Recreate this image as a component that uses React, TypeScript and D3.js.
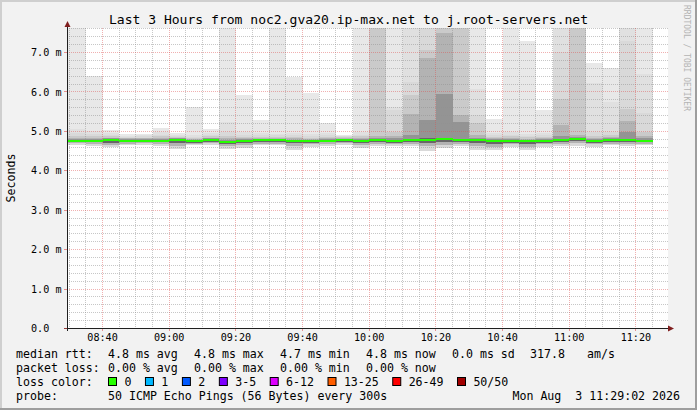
import React from 'react';
import * as d3 from 'd3';

// smoke bins: end time of each 5 minute step (300s)
const binEnds = [
  '08:35', '08:40', '08:45', '08:50', '08:55', '09:00', '09:05', '09:10', '09:15', '09:20',
  '09:25', '09:30', '09:35', '09:40', '09:45', '09:50', '09:55', '10:00', '10:05', '10:10',
  '10:15', '10:20', '10:25', '10:30', '10:35', '10:40', '10:45', '10:50', '10:55', '11:00',
  '11:05', '11:10', '11:15', '11:20', '11:25',
];

// rtt in ms, sorted-ping ranks (1 = outermost pair, 25 = median)
const median = [
  4.75, 4.75, 4.77, 4.755, 4.755, 4.755, 4.77, 4.745, 4.78, 4.73,
  4.755, 4.77, 4.77, 4.745, 4.745, 4.755, 4.77, 4.755, 4.77, 4.745,
  4.77, 4.79, 4.8, 4.77, 4.77, 4.755, 4.755, 4.745, 4.76, 4.77,
  4.8, 4.745, 4.77, 4.77, 4.755,
];
const pingMax = [
  7.9, 6.4, 5.03, 4.93, 4.93, 5.08, 4.97, 5.62, 5.05, 7.9,
  5.93, 5.28, 7.9, 6.38, 5.97, 5.22, 4.92, 7.9, 7.9, 7.9,
  7.9, 7.9, 7.9, 7.9, 7.9, 5.32, 7.9, 7.3, 5.53, 7.9,
  7.9, 6.73, 6.6, 7.9, 7.9,
];
const up2 = [
  5.07, 5.0, 4.96, 4.89, 4.9, 4.98, 4.92, 4.9, 4.96, 5.24,
  4.98, 4.95, 4.94, 4.97, 4.93, 4.96, 4.89, 4.98, 7.9, 5.62,
  7.9, 7.9, 7.9, 7.9, 6.08, 4.96, 4.98, 4.94, 4.95, 7.9,
  7.9, 6.22, 5.74, 7.9, 6.46,
];
const up3 = [
  4.95, 4.93, 4.91, 4.86, 4.87, 4.92, 4.89, 4.86, 4.91, 4.98,
  4.91, 4.9, 4.9, 4.91, 4.88, 4.9, 4.87, 4.92, 7.9, 5.53,
  6.25, 7.9, 7.9, 7.9, 5.41, 4.9, 4.92, 4.89, 4.9, 7.01,
  7.9, 4.98, 4.98, 7.3, 5.47,
];
const up5 = [
  4.88, 4.87, 4.87, 4.84, 4.84, 4.87, 4.86, 4.83, 4.87, 4.88,
  4.86, 4.86, 4.86, 4.86, 4.84, 4.85, 4.85, 4.87, 7.9, 4.98,
  5.91, 7.07, 7.9, 7.9, 5.2, 4.85, 4.87, 4.85, 4.86, 5.83,
  7.9, 4.88, 4.9, 5.56, 4.98,
];
const up8 = [
  4.84, 4.83, 4.84, 4.82, 4.82, 4.83, 4.84, 4.81, 4.84, 4.83,
  4.82, 4.83, 4.83, 4.82, 4.81, 4.82, 4.83, 4.83, 4.87, 4.87,
  5.45, 6.85, 7.49, 5.41, 4.92, 4.82, 4.83, 4.81, 4.82, 5.15,
  4.9, 4.83, 4.85, 5.26, 4.88,
];
const up12 = [
  4.81, 4.8, 4.82, 4.8, 4.8, 4.8, 4.82, 4.79, 4.82, 4.79,
  4.8, 4.81, 4.81, 4.79, 4.79, 4.8, 4.81, 4.8, 4.82, 4.82,
  4.9, 5.3, 5.96, 5.25, 4.83, 4.8, 4.8, 4.79, 4.8, 4.88,
  4.85, 4.8, 4.82, 4.98, 4.83,
];
const up18 = [
  4.78, 4.78, 4.8, 4.78, 4.78, 4.78, 4.8, 4.77, 4.8, 4.76,
  4.78, 4.79, 4.79, 4.77, 4.77, 4.78, 4.79, 4.78, 4.79, 4.78,
  4.8, 4.83, 4.84, 4.81, 4.79, 4.78, 4.78, 4.77, 4.78, 4.8,
  4.82, 4.77, 4.79, 4.81, 4.79,
];
const pingMin = [
  4.66, 4.64, 4.6, 4.645, 4.66, 4.63, 4.56, 4.645, 4.66, 4.56,
  4.59, 4.645, 4.645, 4.54, 4.61, 4.63, 4.66, 4.59, 4.63, 4.63,
  4.63, 4.49, 4.58, 4.63, 4.54, 4.52, 4.61, 4.52, 4.61, 4.63,
  4.63, 4.61, 4.645, 4.63, 4.645,
];
const low5 = [
  4.7, 4.69, 4.66, 4.69, 4.7, 4.68, 4.64, 4.69, 4.7, 4.63,
  4.66, 4.69, 4.69, 4.62, 4.67, 4.68, 4.7, 4.66, 4.69, 4.68,
  4.69, 4.62, 4.65, 4.69, 4.63, 4.61, 4.67, 4.61, 4.67, 4.69,
  4.7, 4.67, 4.69, 4.69, 4.69,
];
const low12 = [
  4.72, 4.72, 4.71, 4.72, 4.725, 4.72, 4.71, 4.715, 4.73, 4.69,
  4.71, 4.73, 4.73, 4.7, 4.71, 4.72, 4.73, 4.71, 4.72, 4.71,
  4.72, 4.71, 4.72, 4.72, 4.7, 4.69, 4.71, 4.69, 4.71, 4.72,
  4.75, 4.71, 4.73, 4.72, 4.72,
];

const yMajor = [0, 1, 2, 3, 4, 5, 6, 7];

const title = 'Last 3 Hours from noc2.gva20.ip-max.net to j.root-servers.net';
const rttStats = ['4.8 ms avg', '4.8 ms max', '4.7 ms min', '4.8 ms now', '0.0 ms sd'];
const lossStats = ['0.00 % avg', '0.00 % max', '0.00 % min', '0.00 % now'];
const lossLabels = ['0', '1', '2', '3-5', '6-12', '13-25', '26-49', '50/50'];
const probeText = '50 ICMP Echo Pings (56 Bytes) every 300s';
const stamp = 'Mon Aug  3 11:29:02 2026';

const lossColors = ['#26ff00', '#00b8ff', '#0059ff', '#7e00ff', '#dd00ff', '#ff5e00', '#ff0000', '#a10000'];
const MONO = "'DejaVu Sans Mono', monospace";

const day = (s: string) => {
  const [h, m] = s.split(':').map(Number);
  return new Date(2026, 7, 3, h, m, 0);
};

const L = 67, R = 668, T = 28, B = 328;
const x = d3.scaleTime()
  .domain([new Date(2026, 7, 3, 8, 29, 20), new Date(2026, 7, 3, 11, 29, 20)])
  .range([L, 667]);
const y = d3.scaleLinear().domain([0, 7.609]).range([328.5, 28.5]);

// smokeping: color = int(190/half*(half-i))+50
const grey = (rank: number) => {
  const c = Math.floor((190 / 25) * (25 - rank)) + 50;
  return d3.rgb(c, c, c).formatHex();
};

const bands = [
  { rank: 1, hi: pingMax, lo: pingMin },
  { rank: 2, hi: up2, lo: pingMin },
  { rank: 3, hi: up3, lo: pingMin },
  { rank: 5, hi: up5, lo: low5 },
  { rank: 8, hi: up8, lo: low5 },
  { rank: 12, hi: up12, lo: low12 },
  { rank: 18, hi: up18, lo: low12 },
];

const App: React.FC = () => {
  const bins = binEnds.map((e, i) => {
    const t1 = day(e);
    const t0 = d3.timeMinute.offset(t1, -5);
    return { i, x0: i === 0 ? L : Math.round(x(t0)), x1: Math.round(x(t1)) };
  });

  const minorX = x.ticks(d3.timeMinute.every(5)!);
  const majorX = x.ticks(d3.timeMinute.every(20)!);
  const minorY = d3.range(1, 39).map(k => k / 5).filter(v => Math.abs(v - Math.round(v)) > 1e-6);
  const px = (v: number) => Math.floor(v) + 0.5;
  const fmt = d3.timeFormat('%H:%M');

  const rowY = [357.5, 371.6, 385.7, 399.8];
  const colX = [108, 194, 280, 366, 452];

  let sx = 108;
  const lossItems = lossLabels.map((lab, i) => {
    const item = { lab, sx, color: lossColors[i] };
    sx = sx + 16.4 + lab.length * 6.95 + 13.6;
    return item;
  });

  return (
    <svg width={697} height={410} style={{ position: 'absolute', left: 0, top: 0 }}
      fontFamily={MONO}>
      <defs>
        <clipPath id="plot"><rect x={L} y={T} width={R - L} height={B - T + 1} /></clipPath>
      </defs>
      <rect width={697} height={410} fill="#f2f2f2" />
      <rect x={0} y={0} width={697} height={2} fill="#cfcfcf" />
      <rect x={0} y={0} width={2} height={410} fill="#cfcfcf" />
      <rect x={0} y={408} width={697} height={2} fill="#9e9e9e" />
      <rect x={695} y={0} width={2} height={410} fill="#9e9e9e" />
      <rect x={L} y={T} width={R - L} height={B - T} fill="#ffffff" />

      <g clipPath="url(#plot)" shapeRendering="crispEdges">
        {bands.map(b => (
          <g key={b.rank} fill={grey(b.rank)}>
            {bins.map(d => {
              const y0 = Math.round(y(b.hi[d.i]));
              const y1 = Math.round(y(b.lo[d.i]));
              return <rect key={d.i} x={d.x0} y={y0} width={d.x1 - d.x0} height={Math.max(0, y1 - y0)} />;
            })}
          </g>
        ))}
      </g>

      <g strokeDasharray="1,1" strokeWidth={1} fill="none">
        {minorX.filter(t => +t % (20 * 60000) !== 0).map(t => (
          <line key={+t} x1={px(x(t))} x2={px(x(t))} y1={T} y2={B} stroke="rgba(143,143,143,0.5)" />
        ))}
        {minorY.map(v => (
          <line key={v} x1={L} x2={R} y1={px(y(v))} y2={px(y(v))} stroke="rgba(143,143,143,0.5)" />
        ))}
        {majorX.map(t => (
          <line key={+t} x1={px(x(t))} x2={px(x(t))} y1={T} y2={B} stroke="rgba(222,79,79,0.45)" />
        ))}
        {yMajor.filter(v => v > 0).map(v => (
          <line key={v} x1={L} x2={R} y1={px(y(v))} y2={px(y(v))} stroke="rgba(222,79,79,0.45)" />
        ))}
      </g>

      <g fill={lossColors[0]} shapeRendering="crispEdges">
        {bins.map(d => (
          <rect key={d.i} x={d.x0} y={Math.round(y(median[d.i])) - 1} width={d.x1 - d.x0} height={2} />
        ))}
      </g>

      {/* axes */}
      <g stroke="#1f1f1f" strokeWidth={1} shapeRendering="crispEdges">
        <line x1={64} x2={670} y1={328.5} y2={328.5} />
        <line x1={67.5} x2={67.5} y1={331} y2={26} />
        {majorX.map(t => (
          <line key={+t} x1={px(x(t))} x2={px(x(t))} y1={329} y2={331} stroke="rgba(222,79,79,0.6)" />
        ))}
        {yMajor.map(v => (
          <line key={v} x1={64} x2={67} y1={px(y(v))} y2={px(y(v))} stroke="rgba(222,79,79,0.6)" />
        ))}
      </g>
      <polygon points="668,325.5 674,328.5 668,331.5" fill="#801f1f" />
      <polygon points="67.5,21 64.5,27 70.5,27" fill="#801f1f" />

      <text x={348.5} y={24} textAnchor="middle" fontSize={13.05} fill="#000">{title}</text>
      <text x={683.5} y={5} fontSize={8} fill="#b4b4b4" transform="rotate(90,683.5,5)">RRDTOOL / TOBI OETIKER</text>
      <text x={0} y={0} fontSize={11.6} textAnchor="middle" fill="#000"
        transform="translate(14.5,178) rotate(-90)">Seconds</text>

      <g fontSize={10.15} fill="#000">
        {yMajor.map(v => (
          <text key={v} x={31} y={y(v) + 3.6}>{v === 0 ? '0.0' : `${v.toFixed(1)} m`}</text>
        ))}
        {majorX.map(t => (
          <text key={+t} x={x(t)} y={341} textAnchor="middle">{fmt(t)}</text>
        ))}
      </g>

      <g fontSize={11.6} fill="#000" style={{ whiteSpace: 'pre' }}>
        <text x={16} y={rowY[0]}>median rtt:</text>
        {rttStats.map((s, i) => <text key={s + i} x={colX[i]} y={rowY[0]}>{s}</text>)}
        <text x={530} y={rowY[0]}>317.8</text>
        <text x={587} y={rowY[0]}>am/s</text>

        <text x={16} y={rowY[1]}>packet loss:</text>
        {lossStats.map((s, i) => <text key={s + i} x={colX[i]} y={rowY[1]}>{s}</text>)}

        <text x={16} y={rowY[2]}>loss color:</text>
        {lossItems.map(it => (
          <g key={it.lab}>
            <rect x={it.sx + 0.5} y={377.5} width={8} height={8} fill={it.color} stroke="#000" strokeWidth={1} />
            <text x={it.sx + 16.4} y={rowY[2]}>{it.lab}</text>
          </g>
        ))}

        <text x={16} y={rowY[3]}>probe:</text>
        <text x={108} y={rowY[3]}>{probeText}</text>
        <text x={680} y={rowY[3]} textAnchor="end" xmlSpace="preserve">{stamp}</text>
      </g>
    </svg>
  );
};

export default App;
